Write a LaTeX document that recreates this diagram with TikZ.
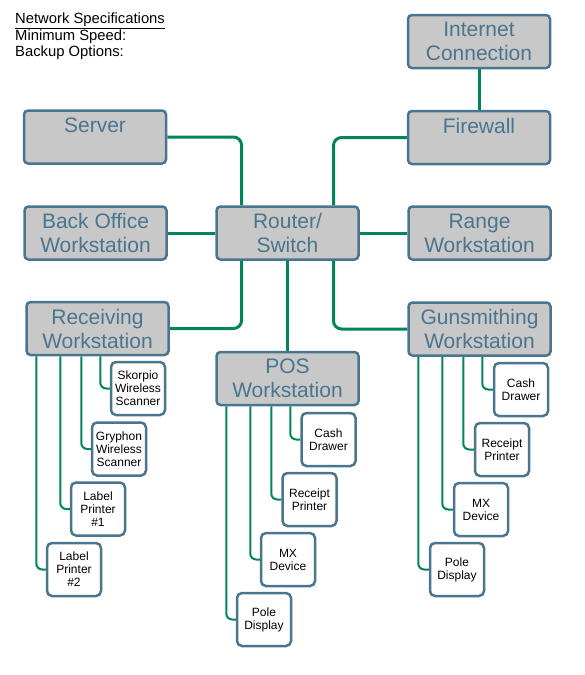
\documentclass[tikz,border=0pt]{standalone}
\usepackage{fontspec}
\setmainfont{Liberation Sans}
\usetikzlibrary{backgrounds}
\definecolor{boxblue}{RGB}{74,117,143}
\definecolor{boxgray}{RGB}{200,200,200}
\definecolor{wire}{RGB}{0,133,90}
\tikzset{
	bigbox/.style={draw=boxblue,fill=boxgray,line width=2.5pt,rounded corners=4pt,minimum width=142pt,minimum height=53pt,align=center,text=boxblue,inner sep=1pt,font=\fontsize{21}{24}\selectfont},
	smallbox/.style={draw=boxblue,fill=white,line width=2.5pt,rounded corners=5pt,minimum width=54pt,minimum height=53pt,align=center,inner sep=1pt,font=\fontsize{12}{13}\selectfont},
	link/.style={draw=wire,line width=3pt,rounded corners=8pt},
	twig/.style={draw=wire,line width=2pt,rounded corners=6pt}
}
\begin{document}
\begin{tikzpicture}[x=1pt,y=-1pt]
				\useasboundingbox (0,0) rectangle (584,675);
				\node[anchor=north west,align=left,inner sep=0pt,font=\fontsize{14.8}{16.2}\selectfont] (specs) at (15,13) {\underline{Network Specifications}\\Minimum Speed:\\Backup Options:};
				\node[bigbox] (server) at (95,137) {Server\\~};
				\node[bigbox] (internet) at (479,41.5) {Internet\\Connection};
				\node[bigbox] (firewall) at (479,137.5) {Firewall\\~};
				\node[bigbox] (backoffice) at (95.5,233) {Back Office\\Workstation};
				\node[bigbox] (router) at (287.5,233) {Router/\\Switch};
				\node[bigbox] (range) at (479.5,233) {Range\\Workstation};
				\node[bigbox] (receiving) at (97.5,328.5) {Receiving\\Workstation};
				\node[bigbox] (gunsmith) at (479.5,329) {Gunsmithing\\Workstation};
				\node[bigbox] (pos) at (287.5,378.5) {POS\\Workstation};
				\node[smallbox] (skorpio) at (138,388.5) {Skorpio\\Wireless\\Scanner};
				\node[smallbox] (gryphon) at (119,449) {Gryphon\\Wireless\\Scanner};
				\node[smallbox] (labelone) at (98,509) {Label\\Printer\\\#1};
				\node[smallbox] (labeltwo) at (74,569.5) {Label\\Printer\\\#2};
				\node[smallbox] (poscash) at (328.5,439.5) {Cash\\Drawer};
				\node[smallbox] (posreceipt) at (309.5,499.5) {Receipt\\Printer};
				\node[smallbox] (posmx) at (288,559.5) {MX\\Device};
				\node[smallbox] (pospole) at (264,619.5) {Pole\\Display};
				\node[smallbox] (guncash) at (521,389.5) {Cash\\Drawer};
				\node[smallbox] (gunreceipt) at (502,449.5) {Receipt\\Printer};
				\node[smallbox] (gunmx) at (481,509.5) {MX\\Device};
				\node[smallbox] (gunpole) at (457,569.5) {Pole\\Display};
				\begin{scope}[on background layer]
				\draw[link] (internet) -- (firewall);
				\draw[link] (server.east) -| ([xshift=-46pt]router.north);
				\draw[link] (firewall.west) -| ([xshift=46pt]router.north);
				\draw[link] (backoffice) -- (router) -- (range);
				\draw[link] (router) -- (pos);
				\draw[link] ([xshift=-46pt]router.south) |- (receiving.east);
				\draw[link] ([xshift=46pt]router.south) |- (gunsmith.west);
				\draw[twig] ([xshift=75pt]receiving.south west) |- (skorpio.west);
				\draw[twig] ([xshift=56pt]receiving.south west) |- (gryphon.west);
				\draw[twig] ([xshift=35pt]receiving.south west) |- (labelone.west);
				\draw[twig] ([xshift=11pt]receiving.south west) |- (labeltwo.west);
				\draw[twig] ([xshift=75pt]pos.south west) |- (poscash.west);
				\draw[twig] ([xshift=56pt]pos.south west) |- (posreceipt.west);
				\draw[twig] ([xshift=35pt]pos.south west) |- (posmx.west);
				\draw[twig] ([xshift=11pt]pos.south west) |- (pospole.west);
				\draw[twig] ([xshift=75pt]gunsmith.south west) |- (guncash.west);
				\draw[twig] ([xshift=56pt]gunsmith.south west) |- (gunreceipt.west);
				\draw[twig] ([xshift=35pt]gunsmith.south west) |- (gunmx.west);
				\draw[twig] ([xshift=11pt]gunsmith.south west) |- (gunpole.west);
				\end{scope}
\end{tikzpicture}
\end{document}
